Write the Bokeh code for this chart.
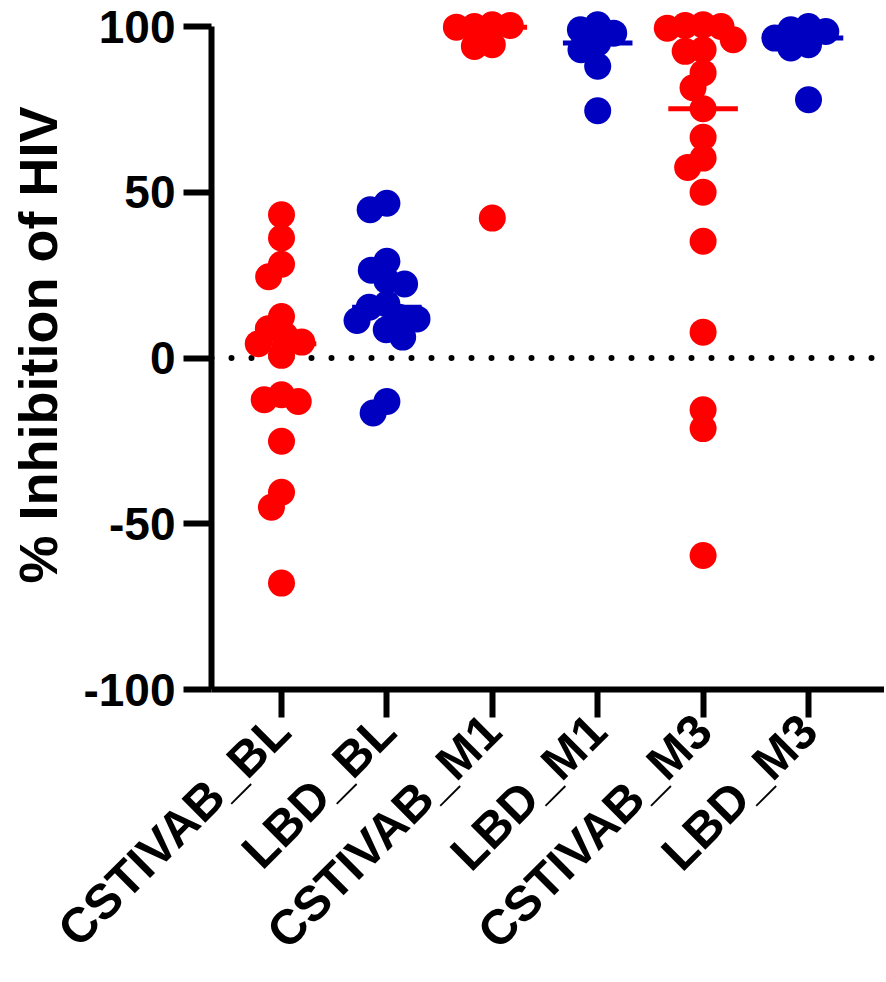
import math
import numpy as np
from bokeh.plotting import figure
from bokeh.models import Range1d, FixedTicker, Span, ColumnDataSource
from bokeh.embed import file_html
from bokeh.resources import INLINE

# ---------------- data ----------------
categories = ["CSTIVAB_BL", "LBD_BL", "CSTIVAB_M1", "LBD_M1", "CSTIVAB_M3", "LBD_M3"]

cstivab_bl = [43.2, 36.2, 28.3, 24.5, 12.5, 8.8, 6.8, 4.8, 4.3, 0.8,
              -11.1, -12.6, -13.1, -25.1, -40.5, -45.0, -67.9]
lbd_bl = [46.7, 44.7, 29.2, 26.5, 23.3, 22.3, 16.3, 15.3, 12.3, 11.8,
          11.3, 8.5, 6.3, -13.1, -16.6]
cstivab_m1 = [100.5, 100.0, 100.3, 99.8, 94.5, 94.0, 42.2]
lbd_m1 = [100.5, 99.0, 98.0, 95.0, 93.0, 88.0, 74.6]
cstivab_m3 = [100.5, 100.3, 100.0, 99.5, 96.0, 93.0, 92.5, 86.0, 81.5, 75.2,
              66.6, 60.3, 57.5, 50.0, 35.2, 7.8, -15.6, -21.3, -59.6]
lbd_m3 = [100.0, 99.0, 98.5, 96.5, 94.5, 93.5, 77.9]

groups = [cstivab_bl, lbd_bl, cstivab_m1, lbd_m1, cstivab_m3, lbd_m3]
RED = "#FF0000"
BLUE = "#0000C0"
group_colors = [RED, BLUE, RED, BLUE, RED, BLUE]

y_ticks = [-100, -50, 0, 50, 100]
y_label = "% Inhibition of HIV"

# ---------------- layout ----------------
FIG_W, FIG_H = 884, 982
BORDER_L = 211
FRAME_BOTTOM = 689
BORDER_B = FIG_H - FRAME_BOTTOM
FRAME_W = FIG_W - BORDER_L
FRAME_H = FIG_H - BORDER_B
TOP_PAD_PX = 26
YPX = (FRAME_H - TOP_PAD_PX) / 200.0          # px per y unit
Y_LO = -100.0
Y_HI = 100.0 + TOP_PAD_PX / YPX
XPX = 105.4                                   # px per category
X_LO = -70.0 / XPX
X_HI = X_LO + FRAME_W / XPX

MARKER = 27
MIN_DIST = 18.0


def swarm(vals, d=MIN_DIST):
    placed = []
    offs = []
    for v in vals:
        y = v * YPX
        intervals = []
        for px, py in placed:
            dy = abs(py - y)
            if dy < d:
                w = math.sqrt(d * d - dy * dy)
                intervals.append((px - w, px + w))
        cands = [0.0] + [a for a, b in intervals] + [b for a, b in intervals]
        valid = [c for c in cands
                 if all(not (a + 1e-6 < c < b - 1e-6) for a, b in intervals)]
        best = min(valid, key=lambda c: (abs(c), c))
        placed.append((best, y))
        offs.append(best / XPX)
    return offs


xs, ys, cs = [], [], []
mx0, mx1, my, mc = [], [], [], []
for i, (vals, col) in enumerate(zip(groups, group_colors)):
    offs = swarm(vals)
    xs += [i + o for o in offs]
    ys += list(vals)
    cs += [col] * len(vals)
    med = float(np.median(vals))
    mx0.append(i - 0.33)
    mx1.append(i + 0.33)
    my.append(med)
    mc.append(col)

pts = ColumnDataSource(dict(x=xs, y=ys, c=cs))
meds = ColumnDataSource(dict(x0=mx0, x1=mx1, y=my, c=mc))

p = figure(width=FIG_W, height=FIG_H, output_backend="svg", toolbar_location=None,
           x_range=Range1d(X_LO, X_HI), y_range=Range1d(Y_LO, Y_HI),
           min_border_left=BORDER_L, min_border_bottom=BORDER_B,
           min_border_top=0, min_border_right=0)
p.outline_line_color = None
p.xgrid.visible = False
p.ygrid.visible = False
p.background_fill_color = "white"
p.border_fill_color = "white"

zero = Span(location=0, dimension="width", line_color="black", line_width=6,
            line_dash="0 20", line_cap="round", level="underlay")
p.add_layout(zero)

p.scatter("x", "y", source=pts, size=MARKER, marker="circle",
          fill_color="c", line_color=None)
p.segment("x0", "y", "x1", "y", source=meds, line_color="c", line_width=5)

FONT = "Liberation Sans"
for ax in (p.xaxis[0], p.yaxis[0]):
    ax.axis_line_width = 6
    ax.axis_line_color = "black"
    ax.major_tick_line_width = 6
    ax.major_tick_line_color = "black"
    ax.major_tick_in = 0
    ax.major_tick_out = 28
    ax.minor_tick_line_color = None
    ax.major_label_text_font = FONT
    ax.major_label_text_font_style = "bold"
    ax.major_label_text_color = "black"

yax = p.yaxis[0]
yax.ticker = FixedTicker(ticks=y_ticks)
yax.major_label_overrides = {t: str(t) for t in y_ticks}
yax.major_label_text_font_size = "46px"
yax.major_label_standoff = 8
yax.bounds = (-100, 100)
yax.axis_label = y_label
yax.axis_label_text_font = FONT
yax.axis_label_text_font_style = "bold"
yax.axis_label_text_font_size = "54px"
yax.axis_label_text_color = "black"
yax.axis_label_standoff = 12

xax = p.xaxis[0]
xax.ticker = FixedTicker(ticks=list(range(len(categories))))
xax.major_label_overrides = {i: c for i, c in enumerate(categories)}
xax.major_label_orientation = math.pi / 4
xax.major_label_text_font_size = "49px"
xax.major_label_standoff = 5

open("out.html", "w").write(file_html(p, INLINE))
